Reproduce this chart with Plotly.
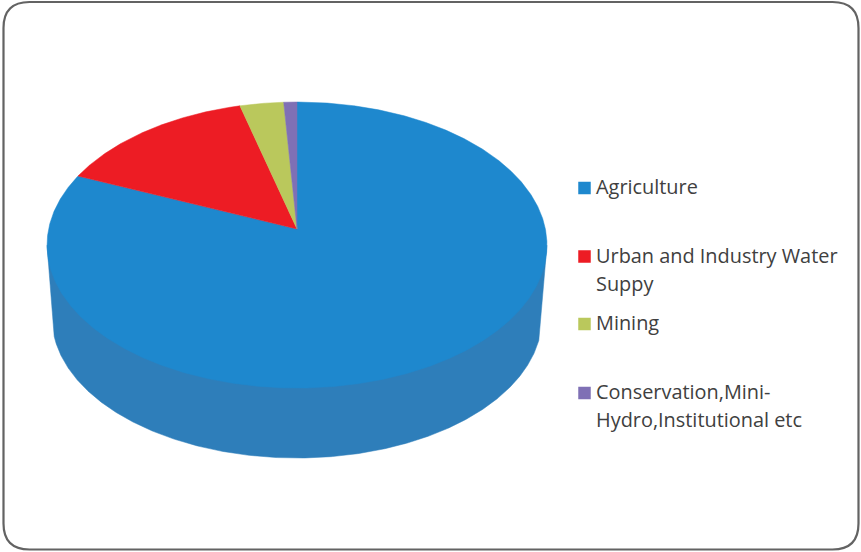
import numpy as np
import plotly.graph_objects as go

# Share of water use by sector (percent)
categories = ["Agriculture", "Urban and Industry Water Supply", "Mining",
              "Conservation,Mini-Hydro,Institutional etc"]
shares = [81.4, 14.5, 3.15, 0.95]
legend_lines = [["Agriculture"], ["Urban and Industry Water", "Suppy"], ["Mining"],
                ["Conservation,Mini-", "Hydro,Institutional etc"]]

slice_colors = ["#1E88CE", "#ED1C24", "#BAC85C", "#7F70B5"]
side_color = "#2E7EBA"
text_color = "#404040"

# Tilted-disc projection, in page pixels
WIDTH, HEIGHT = 861, 552
APEX_X, APEX_Y = 297.0, 229.0
RADIUS_X, RADIUS_Y, TILT = 248.4, 141.2, 0.112
DEPTH, FLOOR_SCALE = 73.2, 0.98


def project(theta, scale=1.0, drop=0.0):
    """Map clockwise angles from 12 o'clock onto the tilted disc."""
    u, v = np.sin(theta), -np.cos(theta)
    w = 1 - TILT * v
    return (APEX_X + scale * RADIUS_X * u / w,
            APEX_Y + drop + scale * RADIUS_Y * v / w)


fig = go.Figure()

# Visible wall of the disc: front of the floor rim joined to the widest rim points
rim = np.radians(np.linspace(0, 360, 1441))
top_x, top_y = project(rim)
left_top, right_top = np.argmin(top_x), np.argmax(top_x)
front = np.radians(np.linspace(104, 256, 400))
wall_x, wall_y = project(front, FLOOR_SCALE, DEPTH)
fig.add_trace(go.Scatter(
    x=[top_x[right_top], *wall_x, top_x[left_top]],
    y=[top_y[right_top], *wall_y, top_y[left_top]],
    mode="lines", fill="toself", fillcolor=side_color,
    line=dict(color=side_color, width=0.5), hoverinfo="skip", showlegend=False))

# Top face, one wedge for each sector
edges = np.radians(np.cumsum([0, *shares]) / sum(shares) * 360)
for name, start, end, color in zip(categories, edges[:-1], edges[1:], slice_colors):
    arc = np.linspace(start, end, max(int(np.degrees(end - start) * 4), 8))
    x, y = project(arc)
    fig.add_trace(go.Scatter(
        x=[APEX_X, *x, APEX_X], y=[APEX_Y, *y, APEX_Y],
        mode="lines", fill="toself", fillcolor=color,
        line=dict(color=color, width=0.5), name=name,
        hoverinfo="name", showlegend=False))

# Legend: a swatch and wrapped label lines for each sector
swatch_y = [188, 256.5, 324, 393]
LABEL_X, LINE_GAP = 593.5, 28
annotations = []
for lines, color, y0 in zip(legend_lines, slice_colors, swatch_y):
    fig.add_trace(go.Scatter(
        x=[584.5], y=[y0], mode="markers",
        marker=dict(symbol="square", size=12.5, color=color, line=dict(width=0)),
        hoverinfo="skip", showlegend=False))
    for i, line in enumerate(lines):
        annotations.append(dict(
            x=LABEL_X, y=y0 - 1.5 + i * LINE_GAP, text=line, showarrow=False,
            xanchor="left", yanchor="middle",
            font=dict(family="Open Sans", size=19.9, color=text_color)))

# Rounded outer frame
L, T, R, B, C = 3.5, 2.0, 858.5, 549.5, 26
frame = (f"M{L + C},{T} L{R - C},{T} Q{R},{T} {R},{T + C} L{R},{B - C} "
         f"Q{R},{B} {R - C},{B} L{L + C},{B} Q{L},{B} {L},{B - C} L{L},{T + C} "
         f"Q{L},{T} {L + C},{T} Z")

fig.update_layout(
    width=WIDTH, height=HEIGHT, margin=dict(l=0, r=0, t=0, b=0),
    paper_bgcolor="white", plot_bgcolor="white",
    xaxis=dict(range=[0, WIDTH], visible=False, fixedrange=True),
    yaxis=dict(range=[HEIGHT, 0], visible=False, fixedrange=True),
    shapes=[dict(type="path", path=frame, line=dict(color="#636363", width=2.2),
                 xref="x", yref="y", layer="below")],
    annotations=annotations,
)

fig.write_html("out.html", config=dict(displayModeBar=False))
